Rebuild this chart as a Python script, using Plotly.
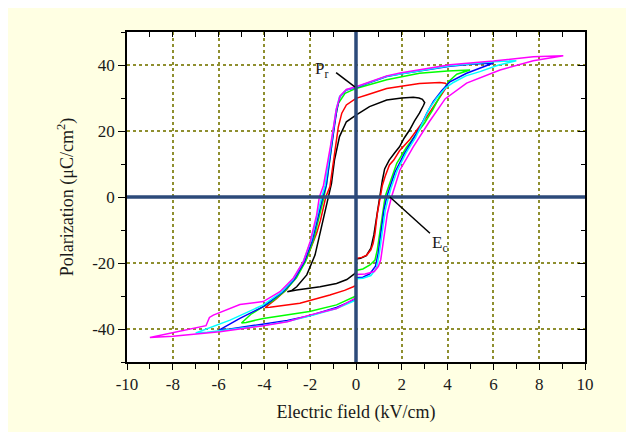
import plotly.graph_objects as go

# ---- data: hysteresis loops (electric field kV/cm, polarization uC/cm2) ----
black_E = [0, 0.2, 0.45, 0.65, 0.78, 0.9, 1.0, 1.06, 1.15, 1.25, 1.45, 1.7, 1.9, 2.1, 2.34, 2.55, 2.77, 2.95, 3.0,
           2.9, 2.75, 2.5, 2.0, 1.34, 0.59, 0, -0.42, -0.72, -0.94, -1.07, -1.2, -1.5, -1.79, -2.15, -2.59, -2.8, -3.0,
           -2.59, -2.0, -1.57, -0.85, -0.4, -0.07, 0]
black_P = [-18.8, -18.6, -17.8, -15.5, -11.5, -6, -1.5, 0.5, 5, 8.5, 11.2, 13.5, 15.2, 17.8, 20.3, 23, 25.4, 27.8, 28.6,
           29.6, 30.0, 30.2, 30.0, 29.4, 27.4, 24.8, 22.8, 18.3, 11.2, 4.1, 0, -9.5, -17.6, -23.6, -27.2, -28.3, -28.7,
           -28.2, -27.6, -27.2, -26.2, -25.0, -23.3, -22.8]

red_E = [0, 0.25, 0.47, 0.65, 0.75, 0.83, 0.93, 1.05, 1.15, 1.27, 1.46, 1.65, 1.9, 2.36, 2.8, 3.09, 3.4, 3.67, 3.9, 4.0,
         3.9, 3.66, 2.77, 1.34, 0.5, 0, -0.42, -0.62, -0.77, -0.92, -1.14, -1.32, -1.55, -1.72, -2.15, -2.59, -3.03, -3.5, -3.97,
         -3.76, -3.32, -2.45, -1.14, -0.5, -0.12, 0]
red_P = [-18.6, -18.3, -17.6, -16, -14, -11, -5, 0.3, 3.5, 6.2, 9.7, 11.2, 14.0, 17.5, 21.5, 24.3, 27.5, 30.4, 32.8, 33.8,
         34.5, 34.7, 34.4, 32.9, 31.0, 29.9, 27.9, 25.4, 21.3, 13.2, 3.1, 0, -7, -11, -18.6, -23.6, -28.0, -31.0, -33.5,
         -33.4, -33.0, -32.2, -29.7, -28.3, -27.2, -26.8]

green_E = [0, 0.3, 0.61, 0.83, 0.93, 1.03, 1.16, 1.27, 1.34, 1.55, 1.78, 2.2, 2.65, 3.0, 3.35, 3.7, 4.05, 4.4, 4.98,
           4.0, 2.77, 1.34, 0, -0.48, -0.77, -0.92, -1.07, -1.28, -1.4, -1.6, -1.85, -2.2, -2.6, -3.1, -3.6, -4.05, -4.6, -5.0,
           -4.8, -4.05, -3.3, -2.45, -2.03, -0.85, -0.07, 0]
green_P = [-22.3, -21.8, -20.6, -19.1, -16, -11, -5, 0, 1.5, 6, 10.2, 15, 19.3, 22.5, 26.4, 31.0, 35.0, 37.2, 38.5,
           38.2, 37.5, 35.5, 32.9, 31.4, 28.4, 23.3, 15.2, 4.1, 0, -6, -13, -19.5, -24.5, -28.5, -31.3, -33.2, -35.6, -38.2,
           -38.0, -36.8, -36.0, -35.3, -34.7, -32.7, -30.2, -30.0]

blue_E = [0, 0.3, 0.6, 0.85, 0.97, 1.1, 1.22, 1.34, 1.45, 1.7, 2.1, 2.5, 2.79, 3.1, 3.38, 3.75, 4.1, 4.83, 5.5, 6.0,
          5.0, 4.1, 1.92, 1.34, 0, -0.42, -0.7, -0.84, -1.07, -1.3, -1.45, -1.65, -1.9, -2.25, -2.7, -3.2, -4.05, -5.07, -6.0,
          -5.5, -4.05, -3.0, -2.03, -0.85, -0.07, 0]
blue_P = [-24.5, -24.3, -23.3, -21, -17, -10, -4, 0, 2.5, 7.5, 13, 17.5, 21, 25.5, 29, 32.3, 34.9, 37.5, 39.4, 40.6,
          40.2, 39.6, 37.3, 36.5, 33.2, 32.4, 30.4, 26.4, 15.2, 3.5, 0, -6, -13, -19.5, -25, -28.8, -33.2, -36.8, -40.4,
          -40.0, -38.6, -37.4, -36.0, -33.5, -31.2, -31.0]

cyan_E = [0, 0.3, 0.65, 0.9, 1.02, 1.15, 1.28, 1.42, 1.52, 1.8, 2.2, 2.6, 2.94, 3.2, 3.52, 3.9, 4.25, 4.8, 5.41, 6.2, 7.0,
          6.0, 4.1, 1.92, 1.34, 0, -0.42, -0.72, -0.87, -1.1, -1.35, -1.5, -1.7, -1.95, -2.3, -2.75, -3.25, -4.05, -5.5, -7.0,
          -6.5, -5.5, -4.05, -3.0, -2.03, -0.85, -0.07, 0]
cyan_P = [-24.8, -24.6, -23.8, -21.5, -17, -10, -4, 0, 2.5, 8, 13.5, 18, 23.3, 26.8, 29.9, 33.0, 34.7, 36.7, 38.0, 39.9, 41.3,
          41.0, 39.8, 37.4, 36.6, 33.3, 32.5, 30.4, 26.4, 15.2, 3.5, 0, -6, -13, -19.5, -25, -28.8, -32.7, -37.3, -41.2,
          -41.0, -40.2, -38.9, -37.7, -36.1, -33.8, -31.4, -31.2]

magenta_E = [0, 0.4, 0.8, 0.98, 1.08, 1.2, 1.37, 1.55, 1.62, 1.92, 2.5, 3.2, 3.9, 4.83, 6.29, 7.74, 9.05,
             7.74, 6.0, 4.1, 1.92, 1.34, 0, -0.42, -0.7, -0.86, -1.12, -1.42, -1.6, -1.72, -2.0, -2.3, -2.74, -3.32, -4.05,
             -5.07, -6.23, -6.4, -6.55, -7.4, -8.2, -9.0,
             -8.0, -7.0, -5.95, -4.05, -3.0, -2.03, -0.85, -0.07, 0]
magenta_P = [-23.5, -23.3, -22.6, -21, -19, -13, -5, 0, 1.5, 8.2, 15.2, 22.8, 29.8, 34.5, 38.5, 41.3, 42.8,
             42.5, 41.2, 40.1, 37.6, 36.7, 33.4, 32.6, 30.6, 26.6, 15.2, 3.5, 0, -5.5, -13.5, -19.6, -24.6, -28.7, -31.7,
             -32.6, -35.8, -36.5, -39.0, -40.3, -41.4, -42.6,
             -42.2, -41.5, -40.8, -39.0, -37.8, -35.8, -33.8, -30.8, -30.6]

loops = [
    (black_E, black_P, "#000000"),
    (red_E, red_P, "#FF0000"),
    (green_E, green_P, "#00FF00"),
    (blue_E, blue_P, "#0000FF"),
    (cyan_E, cyan_P, "#00FFFF"),
    (magenta_E, magenta_P, "#FF00FF"),
]

x_ticks = [-10, -8, -6, -4, -2, 0, 2, 4, 6, 8, 10]
y_ticks = [-40, -20, 0, 20, 40]

FONT = "Liberation Serif"
TXT = "#1a1a1a"
AXBLUE = "#2c4a7a"
GRID = "#8f8f2f"

fig = go.Figure()
for E, P, c in loops:
    fig.add_trace(go.Scatter(x=E, y=P, mode="lines", line=dict(color=c, width=1.5),
                             showlegend=False, hoverinfo="skip"))

# dummy trace for the mirrored (top/right) axes
fig.add_trace(go.Scatter(x=[None], y=[None], xaxis="x2", yaxis="y2", showlegend=False, hoverinfo="skip"))

shapes = [
    dict(type="line", xref="x", yref="y", x0=0, x1=0, y0=-50, y1=50,
         line=dict(color=AXBLUE, width=3.5), layer="above"),
    dict(type="line", xref="x", yref="y", x0=-10, x1=10, y0=0, y1=0,
         line=dict(color=AXBLUE, width=3.5), layer="above"),
    # annotation leader lines
    dict(type="line", xref="x", yref="y", x0=-0.87, y0=37.7, x1=-0.05, y1=33.4,
         line=dict(color="#000000", width=1.5), layer="above"),
    dict(type="line", xref="x", yref="y", x0=1.48, y0=0, x1=3.23, y1=-11,
         line=dict(color="#000000", width=1.5), layer="above"),
]

fig.update_layout(
    width=634, height=432,
    margin=dict(l=119, r=57, t=24, b=78),
    paper_bgcolor="#FFFFE3",
    plot_bgcolor="#FFFFFF",
    shapes=shapes,
    font=dict(family=FONT, size=17, color=TXT),
    xaxis=dict(
        range=[-10, 10], tickvals=x_ticks, ticktext=[str(v) for v in x_ticks],
        ticks="outside", ticklen=6, tickwidth=1.2, tickcolor="#000000",
        minor=dict(dtick=1, tick0=0, ticks="outside", ticklen=5, tickcolor="#000000", showgrid=False),
        showgrid=True, gridcolor=GRID, griddash="dot", gridwidth=1.5,
        zeroline=False, showline=True, linecolor="#000000", linewidth=1.5,
        title=dict(text="Electric field (kV/cm)", font=dict(family=FONT, size=18, color=TXT), standoff=12),
        tickfont=dict(family=FONT, size=17, color=TXT),
    ),
    yaxis=dict(
        range=[-50, 50], tickvals=y_ticks, ticktext=[str(v) for v in y_ticks],
        ticks="outside", ticklen=7, tickwidth=1.2, tickcolor="#000000",
        minor=dict(dtick=10, tick0=0, ticks="outside", ticklen=4, tickcolor="#000000", showgrid=False),
        showgrid=True, gridcolor=GRID, griddash="dot", gridwidth=1.5,
        zeroline=False, showline=True, linecolor="#000000", linewidth=1.5,
        title=dict(text="Polarization (μC/cm<sup>2</sup>)", font=dict(family=FONT, size=18, color=TXT), standoff=14),
        tickfont=dict(family=FONT, size=17, color=TXT),
    ),
    xaxis2=dict(
        range=[-10, 10], overlaying="x", side="top", anchor="y",
        tickvals=list(range(-10, 11)), showticklabels=False,
        ticks="inside", ticklen=5, tickwidth=1.2, tickcolor="#000000",
        showgrid=False, zeroline=False, showline=True, linecolor="#000000", linewidth=1.5,
    ),
    yaxis2=dict(
        range=[-50, 50], overlaying="y", side="right", anchor="x",
        tickvals=y_ticks, showticklabels=False,
        ticks="inside", ticklen=7, tickwidth=1.2, tickcolor="#000000",
        minor=dict(dtick=10, tick0=0, ticks="inside", ticklen=4, tickcolor="#000000", showgrid=False),
        showgrid=False, zeroline=False, showline=True, linecolor="#000000", linewidth=1.5,
    ),
    annotations=[
        dict(x=-1.5, y=38.5, xref="x", yref="y", text="P<sub>r</sub>", showarrow=False,
             font=dict(family=FONT, size=17, color=TXT)),
        dict(x=3.65, y=-14.3, xref="x", yref="y", text="E<sub>c</sub>", showarrow=False,
             font=dict(family=FONT, size=17, color=TXT)),
    ],
)

fig.write_html("out.html")
